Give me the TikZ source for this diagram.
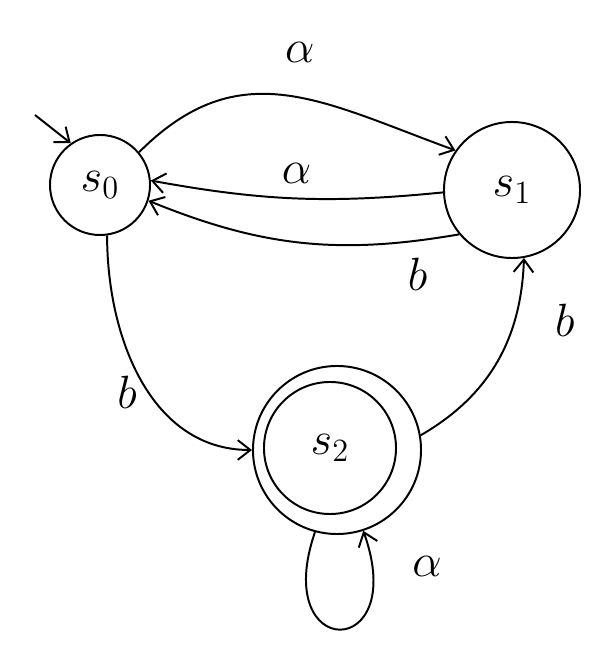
\documentclass[tikz,border=0pt]{standalone}
\usepackage{amsmath}
\usepackage{graphicx}
\usepackage{tikz}
\usetikzlibrary{arrows.meta,positioning,calc}

\newcommand{\handtxt}[1]{\scalebox{1.6}{\huge #1}}

\begin{document}
\begin{tikzpicture}[x=0.025cm,y=0.025cm,
    line width=1.4pt,
    >={Straight Barb[length=9pt,width=14pt]},
    statenode/.style={draw, circle, inner sep=0pt},
    lbl/.style={inner sep=2pt}]
\useasboundingbox (0,0) rectangle (599,652);

% states
\node[statenode, minimum size=2.5cm] (s0) at (100,467) {\handtxt{$s_0$}};
\node[statenode, minimum size=3.4cm] (s1) at (512,462) {\handtxt{$s_1$}};
\node[statenode, minimum size=3.3cm] (s2inner) at (330,204) {\handtxt{$s_2$}};
\node[draw, circle, minimum size=4.2cm] (s2) at (337,202) {};

% initial arrow
\coordinate (start) at (35,537);
\draw[->] (start) -- (s0.125);

% s0 <-> s1
\draw[->] (s0.40) to[out=45,in=160,looseness=1.15] node[lbl, pos=0.55, above=22pt] (la) {\handtxt{$\alpha$}} (s1.145);
\draw[->] (s1.182) to[bend left=8] node[lbl, pos=0.5, above=8pt] (lb) {\handtxt{$\alpha$}} (s0.5);
\draw[->] (s1.220) to[bend left=16] node[lbl, pos=0.12, below=10pt] (lc) {\handtxt{$b$}} (s0.-18);

% s0 -> s2, s2 -> s1
\draw[->] (s0.-82) to[out=-90,in=180] node[lbl, pos=0.55, left=6pt] (ld) {\handtxt{$b$}} (s2.180);
\draw[->] (s2.10) to[out=30,in=-92] node[lbl, pos=0.72, right=26pt] (le) {\handtxt{$b$}} (s1.-80);

% loop on s2
\draw[->] (s2.-105) .. controls (270,-10) and (410,-10) .. node[lbl, pos=0.9, right=26pt] (lf) {\handtxt{$\alpha$}} (s2.-72);
\end{tikzpicture}
\end{document}
